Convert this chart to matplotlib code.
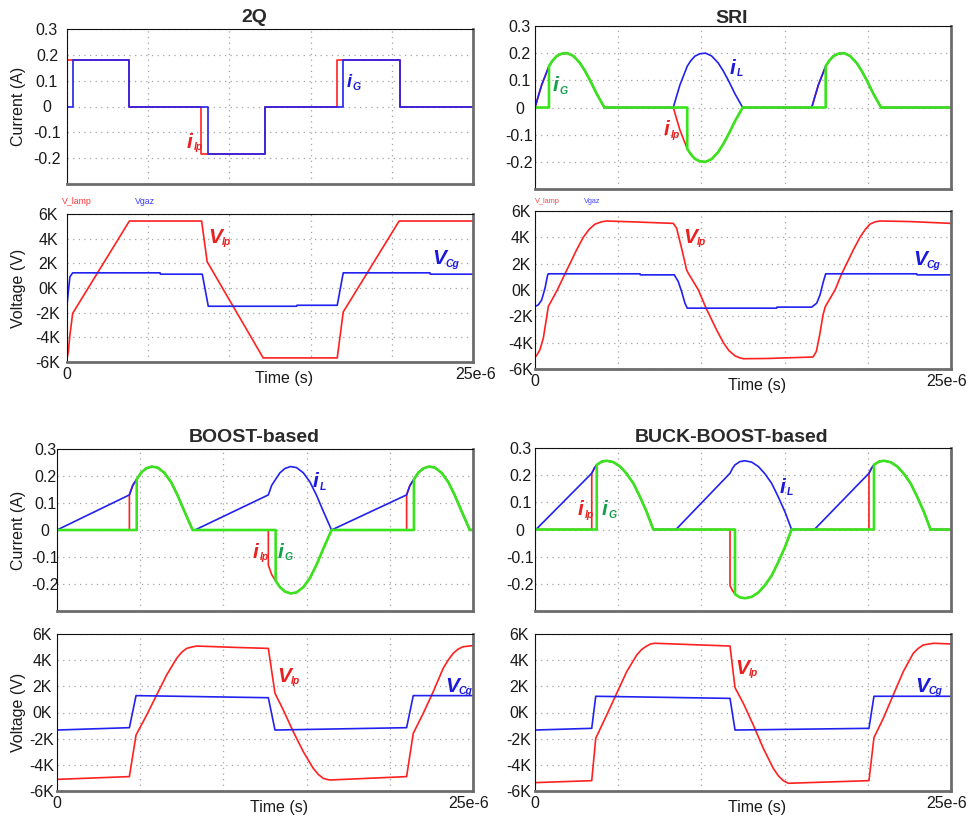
import numpy as np
import matplotlib
matplotlib.use("Agg")
import matplotlib.pyplot as plt
from matplotlib.transforms import ScaledTranslation

plt.rcParams["font.family"] = ["Liberation Sans", "DejaVu Sans"]

# ---------------------------------------------------------------- data (time in microseconds)
T_END = 25.0

# 2Q converter: lamp current / gas current (step levels, A)
q2_ilp_t = [0.0, 3.84, 8.25, 12.19, 16.60, 20.50, 25.0]
q2_ilp = [0.18, 0.0, -0.185, 0.0, 0.18, 0.0, 0.0]
q2_ig_t = [0.0, 0.35, 3.84, 8.70, 12.19, 17.01, 20.50, 25.0]
q2_ig = [0.0, 0.18, 0.0, -0.185, 0.0, 0.18, 0.0, 0.0]
# 2Q voltages (V)
q2_vlp_t = [0.0, 0.08, 0.18, 0.35, 3.84, 8.29, 8.63, 12.08, 16.64, 17.01, 20.45, 25.0]
q2_vlp = [-5700, -5200, -3800, -2050, 5430, 5430, 2130, -5670, -5670, -1940, 5430, 5430]
q2_vcg_t = [0.0, 0.08, 0.18, 0.35, 5.73, 5.75, 8.33, 8.70, 14.14, 14.16, 16.64, 17.01, 22.35, 22.37, 25.0]
q2_vcg = [-1400, -310, 910, 1230, 1230, 1120, 1120, -1480, -1480, -1400, -1400, 1230, 1230, 1120, 1120]

# SRI: half-wave current arc (offset from arc start, magnitude in A)
sri_arc_dt = [0.0, 0.2, 0.4, 0.84, 1.05, 1.3, 1.6, 1.94, 2.3, 2.7, 3.0, 3.31, 3.71, 4.17]
sri_arc_i = [0.0, 0.042, 0.083, 0.152, 0.172, 0.189, 0.198, 0.2, 0.19, 0.164, 0.135, 0.1, 0.05, 0.0]
sri_arc_start = [0.0, 8.31, 16.63]
sri_lamp_sign = [1, -1, 1]
sri_gate_delay = 0.84
# SRI voltages (V)
sri_vlp_t = [0.0, 0.10, 0.30, 0.50, 0.66, 0.80, 1.34, 1.80, 2.10, 2.50, 2.90, 3.25, 3.60, 4.00, 4.31,
             6.00, 8.31, 8.51, 8.81, 9.11, 9.21, 9.82, 10.28, 10.52, 10.92, 11.32, 11.65, 12.02, 12.30,
             12.52, 14.00, 16.71, 16.91, 17.11, 17.31, 17.45, 18.03, 18.43, 18.73, 19.13, 19.53, 19.85,
             20.13, 20.45, 20.73, 22.50, 25.0]
sri_vlp = [-5090, -4970, -4530, -3650, -2390, -1250, 0, 1230, 2000, 3050, 4000, 4600, 5000, 5180, 5240,
           5170, 5060, 4690, 3170, 1530, 1280, 0, -1380, -2000, -3050, -4000, -4600, -5000, -5150,
           -5220, -5200, -5090, -4660, -3400, -1880, -1250, 0, 1230, 2000, 3050, 4000, 4600,
           5000, 5180, 5240, 5200, 5060]
sri_vcg_t = [0.0, 0.20, 0.40, 0.60, 0.76, 0.80, 6.31, 6.33, 8.37, 8.61, 8.81, 9.01, 9.15, 14.52, 14.54,
             16.63, 16.93, 17.13, 17.33, 17.47, 22.94, 22.96, 25.0]
sri_vcg = [-1250, -1130, -760, 130, 1140, 1230, 1230, 1150, 1150, 640, -110, -1000, -1380, -1380, -1300,
           -1300, -1000, -370, 640, 1230, 1230, 1150, 1150]

# BOOST-based: inductor ramp then resonant arc (offset from ramp end, A)
boost_ramp_start = [0.0, 8.29, 16.50]
boost_ramp_end = [4.35, 12.70, 21.01]
boost_arc_dt = [0.0, 0.2, 0.44, 0.7, 1.0, 1.34, 1.7, 2.1, 2.5, 2.9, 3.3, 3.8]
boost_arc_i = [0.13, 0.165, 0.188, 0.212, 0.228, 0.235, 0.231, 0.212, 0.178, 0.128, 0.07, 0.0]
boost_lamp_sign = [1, -1, 1]
boost_gate_delay = 0.44
boost_vlp_t = [0.0, 4.35, 4.75, 5.39, 5.99, 6.59, 7.19, 7.49, 7.79, 8.09, 8.39, 10.59, 12.70, 13.10,
               13.60, 14.20, 14.80, 15.40, 15.70, 16.00, 16.20, 16.40, 21.01, 21.41, 22.01, 22.61,
               23.21, 23.51, 23.81, 24.11, 24.41, 25.0]
boost_vlp = [-5110, -4900, -1720, -190, 1340, 2870, 4140, 4600, 4900, 5000, 5080, 4980, 4900, 1470,
             190, -1470, -2990, -4270, -4730, -5030, -5110, -5160, -4900, -1590, -60, 1590,
             3380, 4010, 4520, 4850, 5030, 5110]
boost_vcg_t = [0.0, 4.35, 4.75, 12.70, 13.10, 21.01, 21.41, 25.0]
boost_vcg = [-1340, -1160, 1290, 1130, -1340, -1160, 1290, 1290]

# BUCK-BOOST-based
bb_ramp_start = [0.06, 8.47, 16.79]
bb_ramp_end = [3.41, 11.72, 20.07]
bb_arc_dt = [0.0, 0.15, 0.3, 0.6, 0.9, 1.3, 1.7, 2.1, 2.5, 2.9, 3.3, 3.7]
bb_arc_i = [0.207, 0.225, 0.238, 0.25, 0.253, 0.248, 0.232, 0.205, 0.17, 0.12, 0.065, 0.0]
bb_lamp_sign = [1, -1, 1]
bb_gate_delay = 0.30
bb_vlp_t = [0.0, 3.41, 3.65, 4.31, 4.91, 5.51, 6.11, 6.41, 6.71, 6.95, 7.21, 11.72, 12.02, 12.52,
            13.12, 13.72, 14.32, 14.62, 14.92, 15.22, 20.07, 20.37, 20.93, 21.53, 22.13, 22.73,
            23.03, 23.33, 23.93, 25.0]
bb_vlp = [-5360, -5210, -1970, -190, 1470, 3120, 4390, 4820, 5080, 5240, 5290, 5080, 1900, 700,
          -960, -2740, -4270, -4830, -5210, -5410, -5210, -1920, -450, 1340, 3120, 4520,
          4900, 5160, 5290, 5240]
bb_vcg_t = [0.0, 3.41, 3.65, 11.72, 12.02, 20.07, 20.37, 25.0]
bb_vcg = [-1340, -1210, 1240, 1080, -1340, -1210, 1240, 1240]

current_ticks = [-0.2, -0.1, 0.0, 0.1, 0.2, 0.3]
current_labels = ["-0.2", "-0.1", "0", "0.1", "0.2", "0.3"]
voltage_ticks = [-6000, -4000, -2000, 0, 2000, 4000, 6000]
voltage_labels = ["-6K", "-4K", "-2K", "0K", "2K", "4K", "6K"]
time_ticks = [0, 5, 10, 15, 20, 25]
time_labels = ["0", "", "", "", "", "25e-6"]

titles = ["2Q", "SRI", "BOOST-based", "BUCK-BOOST-based"]

# ---------------------------------------------------------------- waveform assembly
def arc_train(starts, signs, arc_dt, arc_val, gate):
    t, y = [0.0], [0.0]
    for s, sg in zip(starts, signs):
        if gate > 0:
            t.append(s + gate)
            y.append(0.0)
        for d, v in zip(arc_dt, arc_val):
            if d >= gate:
                t.append(s + d)
                y.append(sg * v)
    t.append(T_END)
    y.append(0.0)
    return np.array(t), np.array(y)


def ramp_arc_train(r_start, r_end, signs, arc_dt, arc_val, gate=None):
    t, y = [0.0], [0.0]
    for rs, re, sg in zip(r_start, r_end, signs):
        if gate is None:
            t.append(rs)
            y.append(0.0)
            g = 0.0
        else:
            t.append(re + gate)
            y.append(0.0)
            g = gate
        for d, v in zip(arc_dt, arc_val):
            if d >= g:
                t.append(re + d)
                y.append(sg * v)
    t.append(T_END)
    y.append(0.0)
    return np.array(t), np.array(y)


US = 1e-6
RED, BLUE, GREEN = "#ff2020", "#2121f0", "#3ae41c"
RED_T, BLUE_T, GREEN_T = "#e82020", "#1a1ad8", "#12a04a"

W, H = 968, 818
fig = plt.figure(figsize=(W / 100, H / 100), dpi=100)


def axes_px(x0, y0, x1, y1):
    return fig.add_axes([x0 / W, 1 - y1 / H, (x1 - x0) / W, (y1 - y0) / H])


def style(ax, kind, ypad, time_axis, end_shift=0.0):
    ax.set_xlim(0, T_END * US)
    ax.set_xticks([v * US for v in time_ticks])
    if time_axis:
        ax.set_xticklabels(time_labels)
    else:
        ax.set_xticklabels([""] * len(time_ticks))
    if kind == "I":
        ax.set_ylim(-0.3, 0.3)
        ax.set_yticks(current_ticks)
        ax.set_yticklabels(current_labels)
    else:
        ax.set_ylim(-6000, 6000)
        ax.set_yticks(voltage_ticks)
        ax.set_yticklabels(voltage_labels)
    ax.grid(True, color="#a3a3a3", linestyle=(0, (1, 3.5)), linewidth=0.9)
    ax.set_axisbelow(True)
    ax.tick_params(axis="both", length=0, labelsize=11.5, labelcolor="#1a1a1a")
    ax.tick_params(axis="y", pad=ypad)
    ax.tick_params(axis="x", pad=3.5)
    for lab in ax.get_yticklabels():
        lab.set_horizontalalignment("center")
    if time_axis and end_shift:
        last = ax.xaxis.get_major_ticks()[-1].label1
        last.set_transform(last.get_transform() + ScaledTranslation(end_shift / 100, 0, fig.dpi_scale_trans))
    for side in ("top", "left"):
        ax.spines[side].set_color("#111111")
        ax.spines[side].set_linewidth(0.8)
    for side in ("bottom", "right"):
        ax.spines[side].set_color("#6c6c6c")
        ax.spines[side].set_linewidth(2.0)
    if time_axis:
        ax.annotate("Time (s)", xy=(0.535, 0), xycoords="axes fraction", xytext=(0, -6.8),
                    textcoords="offset points", ha="center", va="top", fontsize=11.5, color="#1a1a1a")


def tag(x, y, main, sub, color, size=15, subsize=7.5):
    fig.text(x / W, 1 - y / H, main, color=color, fontsize=size, fontweight="bold",
             fontstyle="italic", ha="left", va="baseline")
    w = {"i": 0.33, "V": 0.66}[main] * size * 100 / 72
    fig.text((x + w) / W, 1 - (y + 2.5) / H, sub, color=color, fontsize=subsize, fontweight="bold",
             fontstyle="italic", ha="left", va="baseline")


def ylabel(x, y, s):
    fig.text(x / W, 1 - y / H, s, rotation=90, ha="center", va="center", fontsize=11.5, color="#1a1a1a")


def title(x, y, s):
    fig.text(x / W, 1 - y / H, s, ha="center", va="baseline", fontsize=14, fontweight="bold", color="#2a2a2a")


LW, LWG = 1.2, 1.9

# ---------------------------------------------------------------- 2Q
ax = axes_px(67, 29, 473, 184)
ax.plot(np.array(q2_ilp_t) * US, q2_ilp, drawstyle="steps-post", color=RED, lw=LW)
ax.plot(np.array(q2_ig_t) * US, q2_ig, drawstyle="steps-post", color=BLUE, lw=LW)
style(ax, "I", 14.4, False)
ax = axes_px(67, 214, 473, 362)
ax.plot(np.array(q2_vlp_t) * US, q2_vlp, color=RED, lw=LW)
ax.plot(np.array(q2_vcg_t) * US, q2_vcg, color=BLUE, lw=LW)
style(ax, "V", 13.7, True, end_shift=3)
ylabel(18.5, 106.5, "Current (A)")
ylabel(18.5, 288, "Voltage (V)")
title(254, 22, titles[0])
tag(347, 87, "i", "G", BLUE_T, size=13)
tag(187, 148, "i", "lp", RED_T)
tag(208, 243, "V", "lp", RED_T)
tag(432, 264, "V", "Cg", BLUE_T)
fig.text(61.7 / W, 1 - 204 / H, "V_lamp", color="#ff3535", fontsize=6.3)
fig.text(135 / W, 1 - 204 / H, "Vgaz", color="#3a3aff", fontsize=6.3)

# ---------------------------------------------------------------- SRI
ax = axes_px(535, 26, 951, 189)
t, y = arc_train(sri_arc_start, sri_lamp_sign, sri_arc_dt, sri_arc_i, 0.0)
ax.plot(t * US, y, color=RED, lw=LW)
t, y = arc_train(sri_arc_start, [1, 1, 1], sri_arc_dt, sri_arc_i, 0.0)
ax.plot(t * US, y, color=BLUE, lw=LW)
t, y = arc_train(sri_arc_start, sri_lamp_sign, sri_arc_dt, sri_arc_i, sri_gate_delay)
ax.plot(t * US, y, color=GREEN, lw=LWG)
style(ax, "I", 11.2, False)
ax = axes_px(535, 211, 951, 369)
ax.plot(np.array(sri_vlp_t) * US, sri_vlp, color=RED, lw=LW)
ax.plot(np.array(sri_vcg_t) * US, sri_vcg, color=BLUE, lw=LW)
style(ax, "V", 10.2, True, end_shift=-4)
title(732, 23, titles[1])
tag(552.7, 91, "i", "G", GREEN_T)
tag(730, 74, "i", "L", BLUE_T)
tag(664, 135, "i", "lp", RED_T)
tag(683, 243, "V", "lp", RED_T)
tag(913, 265, "V", "Cg", BLUE_T)
fig.text(535 / W, 1 - 203 / H, "V_lamp", color="#ff4545", fontsize=5.3)
fig.text(584 / W, 1 - 203 / H, "Vgaz", color="#4545ff", fontsize=5.3)

# ---------------------------------------------------------------- BOOST-based
ax = axes_px(57, 449, 473, 611)
t, y = ramp_arc_train(boost_ramp_start, boost_ramp_end, boost_lamp_sign, boost_arc_dt, boost_arc_i, 0.0)
ax.plot(t * US, y, color=RED, lw=LW)
t, y = ramp_arc_train(boost_ramp_start, boost_ramp_end, [1, 1, 1], boost_arc_dt, boost_arc_i, None)
ax.plot(t * US, y, color=BLUE, lw=LW)
t, y = ramp_arc_train(boost_ramp_start, boost_ramp_end, boost_lamp_sign, boost_arc_dt, boost_arc_i,
                      boost_gate_delay)
ax.plot(t * US, y, color=GREEN, lw=LWG)
style(ax, "I", 8.6, False)
ax = axes_px(57, 634, 473, 791)
ax.plot(np.array(boost_vlp_t) * US, boost_vlp, color=RED, lw=LW)
ax.plot(np.array(boost_vcg_t) * US, boost_vcg, color=BLUE, lw=LW)
style(ax, "V", 10.8, True, end_shift=-4)
ylabel(18.5, 530, "Current (A)")
ylabel(18.5, 712, "Voltage (V)")
title(254, 442, titles[2])
tag(313, 487, "i", "L", BLUE_T)
tag(253, 558, "i", "lp", RED_T)
tag(278, 558, "i", "G", GREEN_T)
tag(277, 682, "V", "lp", RED_T)
tag(445, 692, "V", "Cg", BLUE_T)

# ---------------------------------------------------------------- BUCK-BOOST-based
ax = axes_px(535, 448, 951, 611)
t, y = ramp_arc_train(bb_ramp_start, bb_ramp_end, bb_lamp_sign, bb_arc_dt, bb_arc_i, 0.0)
ax.plot(t * US, y, color=RED, lw=LW)
t, y = ramp_arc_train(bb_ramp_start, bb_ramp_end, [1, 1, 1], bb_arc_dt, bb_arc_i, None)
ax.plot(t * US, y, color=BLUE, lw=LW)
t, y = ramp_arc_train(bb_ramp_start, bb_ramp_end, bb_lamp_sign, bb_arc_dt, bb_arc_i, bb_gate_delay)
ax.plot(t * US, y, color=GREEN, lw=LWG)
style(ax, "I", 10.8, False)
ax = axes_px(535, 634, 951, 791)
ax.plot(np.array(bb_vlp_t) * US, bb_vlp, color=RED, lw=LW)
ax.plot(np.array(bb_vcg_t) * US, bb_vcg, color=BLUE, lw=LW)
style(ax, "V", 11.5, True, end_shift=-4)
title(731.5, 442, titles[3])
tag(578, 515, "i", "lp", RED_T)
tag(601.7, 515, "i", "G", GREEN_T)
tag(780, 493, "i", "L", BLUE_T)
tag(735, 674, "V", "lp", RED_T)
tag(915, 692, "V", "Cg", BLUE_T)

fig.savefig("out.png", dpi=100, facecolor="white")
